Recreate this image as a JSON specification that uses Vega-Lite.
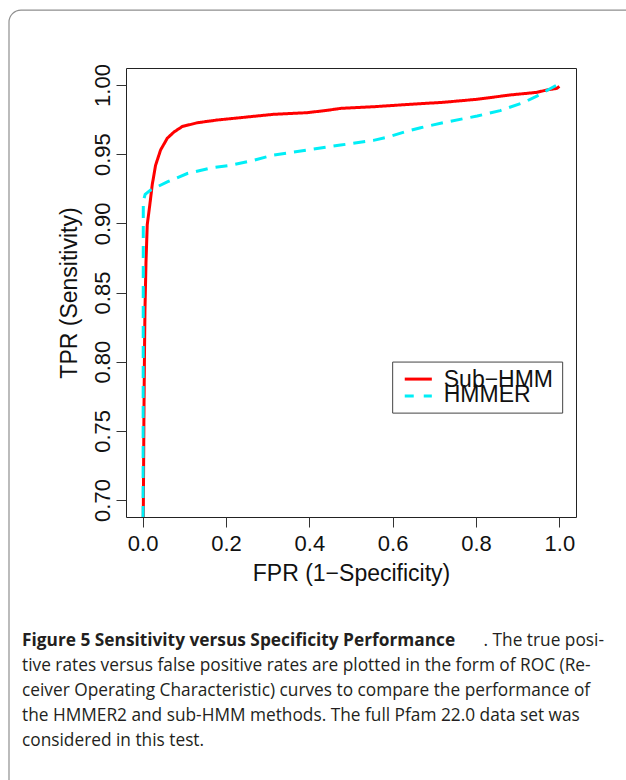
{
  "$schema": "https://vega.github.io/schema/vega-lite/v6.json",
  "width": 450,
  "height": 449,
  "autosize": {"type": "none"},
  "padding": {"left": 126, "top": 68, "right": 50, "bottom": 263},
  "background": "white",
  "config": {
    "view": {"stroke": "#222222", "strokeWidth": 1},
    "font": "Liberation Sans",
    "axis": {
      "domain": false,
      "grid": false,
      "tickSize": 10,
      "tickColor": "#333333",
      "tickWidth": 1,
      "labelFont": "Liberation Sans",
      "labelFontSize": 22,
      "labelColor": "#111111",
      "titleFont": "Liberation Sans",
      "titleFontSize": 23,
      "titleFontWeight": "normal",
      "titleColor": "#111111"
    }
  },
  "datasets": {
    "roc": [
      {"series": "Sub−HMM", "i": 0, "fpr": 0.0015, "tpr": 0.687},
      {"series": "Sub−HMM", "i": 1, "fpr": 0.003, "tpr": 0.76},
      {"series": "Sub−HMM", "i": 2, "fpr": 0.0045, "tpr": 0.81},
      {"series": "Sub−HMM", "i": 3, "fpr": 0.0055, "tpr": 0.837},
      {"series": "Sub−HMM", "i": 4, "fpr": 0.008, "tpr": 0.872},
      {"series": "Sub−HMM", "i": 5, "fpr": 0.011, "tpr": 0.899},
      {"series": "Sub−HMM", "i": 6, "fpr": 0.017, "tpr": 0.913},
      {"series": "Sub−HMM", "i": 7, "fpr": 0.023, "tpr": 0.928},
      {"series": "Sub−HMM", "i": 8, "fpr": 0.031, "tpr": 0.942},
      {"series": "Sub−HMM", "i": 9, "fpr": 0.043, "tpr": 0.953},
      {"series": "Sub−HMM", "i": 10, "fpr": 0.059, "tpr": 0.9615},
      {"series": "Sub−HMM", "i": 11, "fpr": 0.075, "tpr": 0.966},
      {"series": "Sub−HMM", "i": 12, "fpr": 0.095, "tpr": 0.97},
      {"series": "Sub−HMM", "i": 13, "fpr": 0.131, "tpr": 0.9727},
      {"series": "Sub−HMM", "i": 14, "fpr": 0.179, "tpr": 0.9747},
      {"series": "Sub−HMM", "i": 15, "fpr": 0.235, "tpr": 0.9764},
      {"series": "Sub−HMM", "i": 16, "fpr": 0.314, "tpr": 0.9788},
      {"series": "Sub−HMM", "i": 17, "fpr": 0.395, "tpr": 0.98},
      {"series": "Sub−HMM", "i": 18, "fpr": 0.443, "tpr": 0.9817},
      {"series": "Sub−HMM", "i": 19, "fpr": 0.475, "tpr": 0.9831},
      {"series": "Sub−HMM", "i": 20, "fpr": 0.554, "tpr": 0.9843},
      {"series": "Sub−HMM", "i": 21, "fpr": 0.655, "tpr": 0.9863},
      {"series": "Sub−HMM", "i": 22, "fpr": 0.722, "tpr": 0.9875},
      {"series": "Sub−HMM", "i": 23, "fpr": 0.803, "tpr": 0.9897},
      {"series": "Sub−HMM", "i": 24, "fpr": 0.882, "tpr": 0.9928},
      {"series": "Sub−HMM", "i": 25, "fpr": 0.946, "tpr": 0.9947},
      {"series": "Sub−HMM", "i": 26, "fpr": 0.97, "tpr": 0.9964},
      {"series": "Sub−HMM", "i": 27, "fpr": 0.994, "tpr": 0.9976},
      {"series": "Sub−HMM", "i": 28, "fpr": 1.0, "tpr": 0.999},
      {"series": "HMMER", "i": 0, "fpr": 0.001, "tpr": 0.687},
      {"series": "HMMER", "i": 1, "fpr": 0.0015, "tpr": 0.916},
      {"series": "HMMER", "i": 2, "fpr": 0.006, "tpr": 0.921},
      {"series": "HMMER", "i": 3, "fpr": 0.019, "tpr": 0.924},
      {"series": "HMMER", "i": 4, "fpr": 0.059, "tpr": 0.93},
      {"series": "HMMER", "i": 5, "fpr": 0.107, "tpr": 0.936},
      {"series": "HMMER", "i": 6, "fpr": 0.163, "tpr": 0.94},
      {"series": "HMMER", "i": 7, "fpr": 0.211, "tpr": 0.942},
      {"series": "HMMER", "i": 8, "fpr": 0.259, "tpr": 0.945},
      {"series": "HMMER", "i": 9, "fpr": 0.314, "tpr": 0.9494},
      {"series": "HMMER", "i": 10, "fpr": 0.395, "tpr": 0.953},
      {"series": "HMMER", "i": 11, "fpr": 0.475, "tpr": 0.9566},
      {"series": "HMMER", "i": 12, "fpr": 0.554, "tpr": 0.96},
      {"series": "HMMER", "i": 13, "fpr": 0.587, "tpr": 0.9622},
      {"series": "HMMER", "i": 14, "fpr": 0.631, "tpr": 0.9663},
      {"series": "HMMER", "i": 15, "fpr": 0.667, "tpr": 0.9691},
      {"series": "HMMER", "i": 16, "fpr": 0.722, "tpr": 0.9728},
      {"series": "HMMER", "i": 17, "fpr": 0.803, "tpr": 0.9776},
      {"series": "HMMER", "i": 18, "fpr": 0.858, "tpr": 0.9815},
      {"series": "HMMER", "i": 19, "fpr": 0.914, "tpr": 0.9873},
      {"series": "HMMER", "i": 20, "fpr": 0.946, "tpr": 0.992},
      {"series": "HMMER", "i": 21, "fpr": 0.994, "tpr": 1.0}
    ]
  },
  "layer": [
    {
      "data": {"values": [{}]},
      "mark": {"type": "rect", "fill": null, "stroke": "#8f8f8f", "strokeWidth": 1.2, "cornerRadius": 12, "clip": false},
      "encoding": {
        "x": {"datum": -0.3208, "type": "quantitative"},
        "x2": {"datum": 1.2416},
        "y": {"datum": 1.0542, "type": "quantitative"},
        "y2": {"datum": 0.4686}
      }
    },
    {
      "data": {"name": "roc"},
      "mark": {"type": "line", "strokeWidth": 3, "clip": true, "strokeCap": "butt"},
      "encoding": {
        "x": {
          "field": "fpr", "type": "quantitative",
          "scale": {"domain": [-0.04, 1.04], "nice": false, "zero": false},
          "axis": {"values": [0, 0.2, 0.4, 0.6, 0.8, 1.0], "format": ".1f", "labelPadding": 6, "titlePadding": 8, "title": "FPR (1−Specificity)"}
        },
        "y": {
          "field": "tpr", "type": "quantitative",
          "scale": {"domain": [0.6877, 1.0123], "nice": false, "zero": false},
          "axis": {"values": [0.7, 0.75, 0.8, 0.85, 0.9, 0.95, 1.0], "format": ".2f", "labelAngle": -90, "labelAlign": "center", "labelBaseline": "bottom", "labelPadding": 2, "titlePadding": 10, "title": "TPR (Sensitivity)"}
        },
        "color": {
          "field": "series", "type": "nominal",
          "scale": {"domain": ["Sub−HMM", "HMMER"], "range": ["#ff0000", "#00eef6"]},
          "legend": null
        },
        "strokeDash": {
          "field": "series", "type": "nominal",
          "scale": {"domain": ["Sub−HMM", "HMMER"], "range": [[1, 0], [12, 8]]},
          "legend": null
        },
        "order": {"field": "i", "type": "quantitative"}
      }
    },
    {
      "data": {"values": [{}]},
      "mark": {"type": "rect", "fill": "white", "stroke": "#444444", "strokeWidth": 1},
      "encoding": {
        "x": {"datum": 0.6, "type": "quantitative"},
        "x2": {"datum": 1.008},
        "y": {"datum": 0.7997, "type": "quantitative"},
        "y2": {"datum": 0.7628}
      }
    },
    {
      "data": {"values": [{}]},
      "mark": {"type": "rule", "stroke": "#ff0000", "strokeWidth": 3},
      "encoding": {
        "x": {"datum": 0.629, "type": "quantitative"},
        "x2": {"datum": 0.694},
        "y": {"datum": 0.7874, "type": "quantitative"}
      }
    },
    {
      "data": {"values": [{}]},
      "mark": {"type": "rule", "stroke": "#00eef6", "strokeWidth": 3, "strokeDash": [9, 10]},
      "encoding": {
        "x": {"datum": 0.629, "type": "quantitative"},
        "x2": {"datum": 0.694},
        "y": {"datum": 0.7751, "type": "quantitative"}
      }
    },
    {
      "data": {"values": [{}]},
      "mark": {"type": "text", "text": "Sub−HMM", "font": "Liberation Sans", "fontSize": 23, "align": "left", "baseline": "alphabetic", "color": "#111111"},
      "encoding": {
        "x": {"datum": 0.7226, "type": "quantitative"},
        "y": {"datum": 0.7816, "type": "quantitative"}
      }
    },
    {
      "data": {"values": [{}]},
      "mark": {"type": "text", "text": "HMMER", "font": "Liberation Sans", "fontSize": 23, "align": "left", "baseline": "alphabetic", "color": "#111111"},
      "encoding": {
        "x": {"datum": 0.7226, "type": "quantitative"},
        "y": {"datum": 0.7708, "type": "quantitative"}
      }
    },
    {
      "data": {"values": [{}]},
      "mark": {"type": "text", "text": "Figure 5 Sensitivity versus Specificity Performance", "font": "Open Sans", "fontWeight": "bold", "fontSize": 17.3, "align": "left", "baseline": "alphabetic", "color": "#231f20", "clip": false},
      "encoding": {
        "x": {"datum": -0.2896, "type": "quantitative"},
        "y": {"datum": 0.5944, "type": "quantitative"}
      }
    },
    {
      "data": {"values": [{}]},
      "mark": {"type": "text", "text": ". The true posi-", "font": "Open Sans", "fontSize": 17.3, "align": "right", "baseline": "alphabetic", "color": "#231f20", "clip": false},
      "encoding": {
        "x": {"datum": 1.1072, "type": "quantitative"},
        "y": {"datum": 0.5944, "type": "quantitative"}
      }
    },
    {
      "data": {"values": [{}]},
      "mark": {"type": "text", "text": ["tive rates versus false positive rates are plotted in the form of ROC (Re-", "ceiver Operating Characteristic) curves to compare the performance of", "the HMMER2 and sub-HMM methods. The full Pfam 22.0 data set was", "considered in this test."], "lineHeight": 25, "font": "Open Sans", "fontSize": 17.3, "align": "left", "baseline": "alphabetic", "color": "#231f20", "clip": false},
      "encoding": {
        "x": {"datum": -0.2896, "type": "quantitative"},
        "y": {"datum": 0.5763, "type": "quantitative"}
      }
    }
  ]
}
